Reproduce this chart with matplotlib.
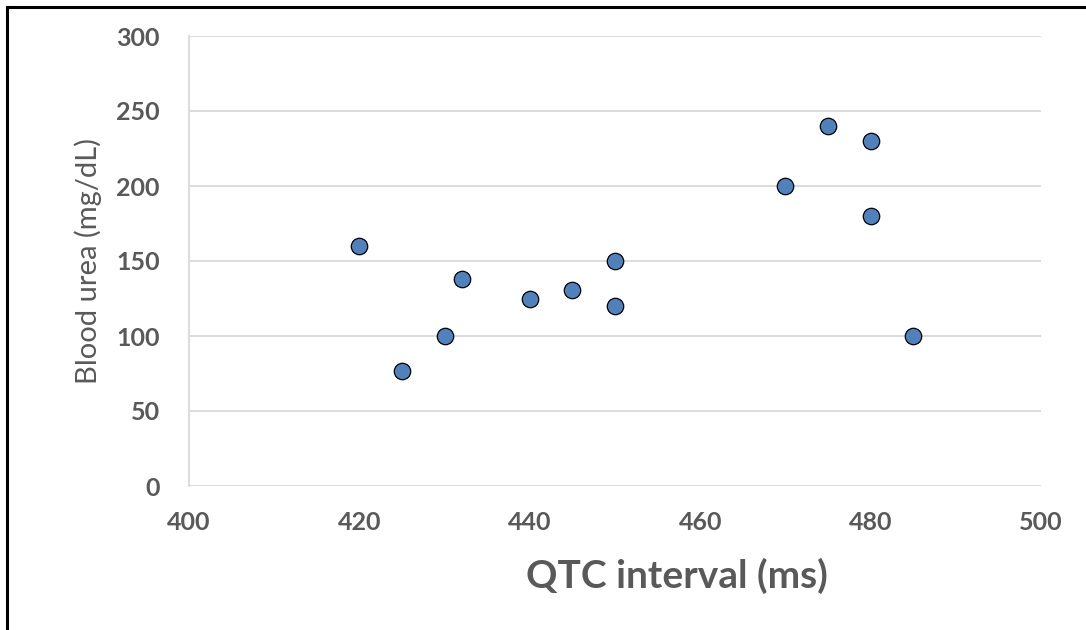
import numpy as np
import matplotlib.pyplot as plt
from matplotlib.lines import Line2D

# data
qtc = [420, 425, 430, 432, 440, 445, 450, 450, 470, 475, 480, 480, 485]
urea = [160, 77, 100, 138, 125, 131, 150, 120, 200, 240, 230, 180, 100]

xticks = [400, 420, 440, 460, 480, 500]
yticks = [0, 50, 100, 150, 200, 250, 300]

gray = '#595959'
plt.rcParams['font.family'] = ['Lato', 'DejaVu Sans']

fig = plt.figure(figsize=(10.86, 6.3), dpi=100)
ax = fig.add_axes([189/1086, 1-486/630, (1041-189)/1086, (486-36)/630])

ax.scatter(qtc, urea, s=140, color='#4F81BD', edgecolor='black', linewidth=0.9, zorder=3)

ax.set_xlim(400, 500)
ax.set_ylim(0, 300)
ax.set_xticks(xticks)
ax.set_yticks(yticks)
ax.yaxis.grid(True, color='#D9D9D9', linewidth=1.3)
ax.set_axisbelow(True)
for s in ['top', 'right', 'bottom']:
    ax.spines[s].set_visible(False)
ax.spines['left'].set_color('#D9D9D9')
ax.spines['left'].set_linewidth(1.3)
ax.tick_params(length=0, labelsize=18, labelcolor=gray)
ax.tick_params(axis='x', pad=18)
ax.tick_params(axis='y', pad=21)
for lab in ax.get_xticklabels() + ax.get_yticklabels():
    lab.set_fontweight('bold')

ax.set_xlabel('QTC interval (ms)', fontsize=28, fontweight='bold', color=gray, va='center')
ax.xaxis.set_label_coords((677-189)/852, -(576-486)/450)
ax.set_ylabel('Blood urea (mg/dL)', fontsize=21, color=gray, va='center')
ax.yaxis.set_label_coords(-(189-88)/852, 0.5)

# outer frame (left and top only)
fig.add_artist(Line2D([6.5/1086, 6.5/1086], [0, 1-6.5/630], color='black', linewidth=2.2))
fig.add_artist(Line2D([6.5/1086, 1], [1-6.5/630, 1-6.5/630], color='black', linewidth=2.2))

plt.savefig('out.png', dpi=100)
